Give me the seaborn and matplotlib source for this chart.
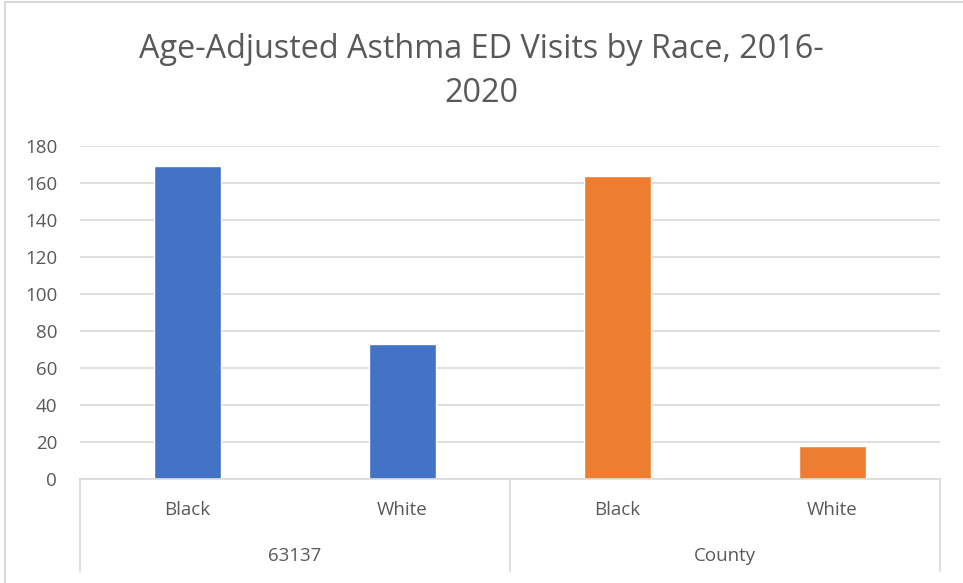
import matplotlib
matplotlib.use("Agg")
import matplotlib.pyplot as plt
import matplotlib.transforms as mtransforms
import pandas as pd
import seaborn as sns

# data
groups = ["63137", "63137", "County", "County"]
race = ["Black", "White", "Black", "White"]
visits = [169, 73, 164, 18]
group_names = ["63137", "County"]
group_colors = ["#4472C4", "#ED7D31"]

df = pd.DataFrame({"group": groups, "race": race, "visits": visits})
df["key"] = df["group"] + " " + df["race"]

sns.set_style("white")
plt.rcParams["font.family"] = ["Open Sans", "DejaVu Sans"]
grey = "#595959"

fig = plt.figure(figsize=(9.63, 5.83), dpi=100)
ax = fig.add_axes([80 / 963, 1 - 479 / 583, 860 / 963, 333 / 583])

sns.barplot(data=df, x="key", y="visits", hue="group", hue_order=group_names,
            palette=group_colors, dodge=False, width=0.31, saturation=1,
            legend=False, ax=ax)

ax.set_ylim(0, 180)
ax.set_xlim(-0.5, 3.5)
ax.set_yticks(range(0, 181, 20))
ax.yaxis.grid(True, color="#D9D9D9", linewidth=1.2)
ax.set_axisbelow(True)
for s in ["top", "right", "left"]:
    ax.spines[s].set_visible(False)
ax.spines["bottom"].set_color("#D9D9D9")
ax.spines["bottom"].set_linewidth(1.2)
ax.tick_params(axis="y", length=0, pad=16.5, labelsize=13.5, labelcolor=grey)
ax.set_xticks([])
ax.set_xlabel("")
ax.set_ylabel("")

# two-level category axis
trans = mtransforms.blended_transform_factory(ax.transData, ax.transAxes)
for xpos in [-0.5, 1.5, 3.5]:
    ax.plot([xpos, xpos], [0, -0.275], transform=trans, color="#D9D9D9",
            linewidth=1.2, clip_on=False)
for i, r in enumerate(race):
    ax.text(i, -0.094, r, transform=trans, ha="center", va="center",
            fontsize=13.5, color=grey)
for j, g in enumerate(group_names):
    ax.text(2 * j + 0.5, -0.232, g, transform=trans, ha="center", va="center",
            fontsize=13.5, color=grey)

fig.text(0.5, 1 - 50 / 583, "Age-Adjusted Asthma ED Visits by Race, 2016-",
         ha="center", va="center", fontsize=23.3, color=grey)
fig.text(0.5, 1 - 94 / 583, "2020", ha="center", va="center",
         fontsize=23.3, color=grey)

# chart frame (left and top edges visible)
fig.add_artist(plt.Line2D([5 / 963, 5 / 963], [0, 1 - 2 / 583],
                          color="#D9D9D9", linewidth=1.5))
fig.add_artist(plt.Line2D([5 / 963, 1], [1 - 2 / 583, 1 - 2 / 583],
                          color="#D9D9D9", linewidth=1.5))

fig.savefig("out.png", dpi=100)
